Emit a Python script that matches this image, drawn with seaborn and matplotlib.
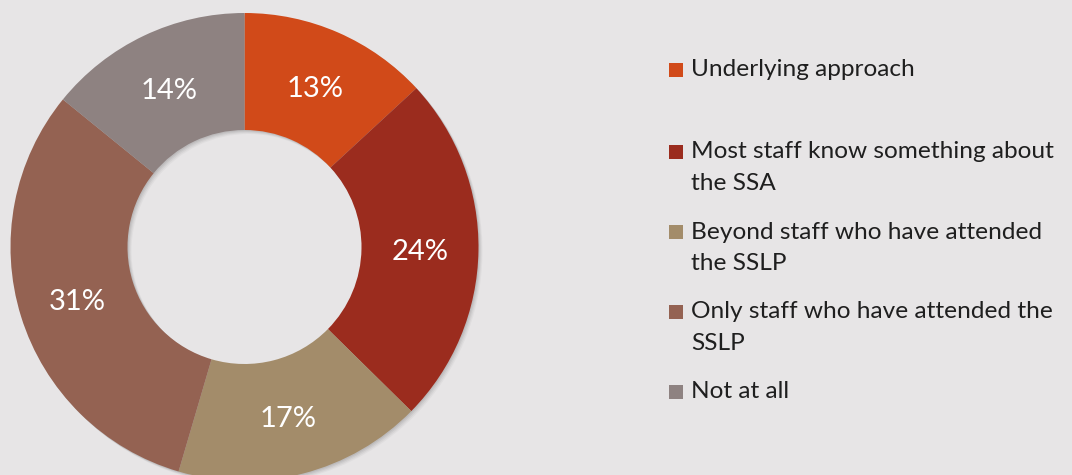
import textwrap
import matplotlib
matplotlib.use("Agg")
import matplotlib.pyplot as plt
from matplotlib.patches import Rectangle
import seaborn as sns

categories = [
    "Underlying approach",
    "Most staff know something about the SSA",
    "Beyond staff who have attended the SSLP",
    "Only staff who have attended the SSLP",
    "Not at all",
]
shares = [13, 24, 17, 31, 14]
colors = ["#D14A19", "#9B2C1E", "#A38C6A", "#946252", "#8E8281"]
background = "#E7E5E6"

sns.set_theme(style="white")
plt.rcParams["font.family"] = ["Lato", "DejaVu Sans"]

W, H = 1072, 475
fig = plt.figure(figsize=(W / 100, H / 100), dpi=100, facecolor=background)

# donut geometry in pixels (origin top-left)
cx, cy, R = 244.5, 247.0, 234.0
hole = 117.0 / R
ax = fig.add_axes([(cx - R) / W, (H - cy - R) / H, 2 * R / W, 2 * R / H])
ax.set_facecolor(background)
ax.axis("off")

# soft drop shadow under the ring
for k, a in [(4, 0.05), (3, 0.07), (2, 0.09), (1, 0.1)]:
    d = k / R
    ax.pie(shares, startangle=90, counterclock=False, radius=1,
           center=(d, -d), colors=["#555555"] * len(shares),
           wedgeprops=dict(width=1 - hole, linewidth=0, alpha=a))

wedges, texts = ax.pie(
    shares, startangle=90, counterclock=False, radius=1,
    colors=colors, labels=[f"{v}%" for v in shares], labeldistance=(1 + hole) / 2,
    wedgeprops=dict(width=1 - hole, linewidth=0),
    textprops=dict(color="white", fontsize=21, ha="center", va="center_baseline"),
)
ax.set_xlim(-1, 1)
ax.set_ylim(-1, 1)
ax.set_aspect("equal")

# legend drawn as stacked entries, wrapped lines 31 px apart
row_y = [70, 152, 232, 312, 392]
sq = 14
for cat, col, y in zip(categories, colors, row_y):
    fig.patches.append(Rectangle((669 / W, (H - y - sq / 2) / H), sq / W, sq / H,
                                 transform=fig.transFigure, facecolor=col,
                                 edgecolor="none"))
    for i, line in enumerate(textwrap.wrap(cat, 32)):
        fig.text(691 / W, (H - y - 31 * i) / H, line, ha="left", va="center",
                 fontsize=17.6, color="#1f1f1f", transform=fig.transFigure)

fig.savefig("out.png", dpi=100, facecolor=background)
